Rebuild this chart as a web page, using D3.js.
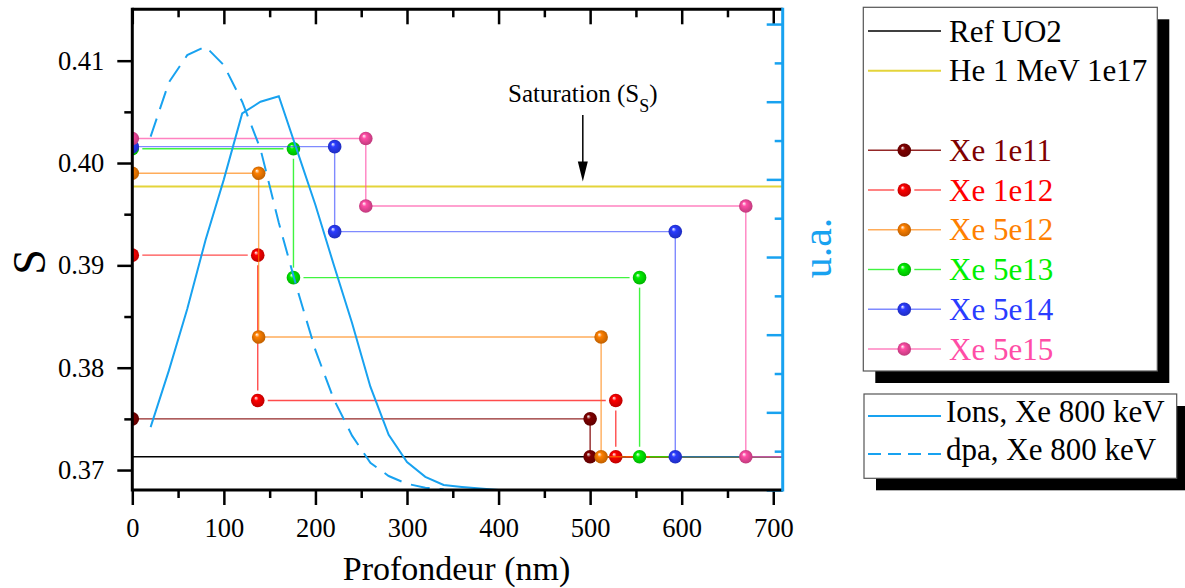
<!DOCTYPE html>
<html><head><meta charset="utf-8">
<script src="https://cdn.jsdelivr.net/npm/d3@7/dist/d3.min.js"></script>
<style>
body{margin:0;background:#fff}
svg{display:block}
svg text{font-family:"Liberation Serif","Times New Roman",serif !important}
</style>
</head><body>
<svg id="chart" width="1185" height="588"></svg>
<script>
// ---------------- data ----------------
const depthDomain = [0, 710.3];
const sDomain = [0.36805, 0.41502];
const uaDomain = [0, 6.19];

const depthTicks = [0, 100, 200, 300, 400, 500, 600, 700];
const depthMinorTicks = [50, 150, 250, 350, 450, 550, 650];
const sTicks = [0.37, 0.38, 0.39, 0.40, 0.41];
const sMinorTicks = [0.375, 0.385, 0.395, 0.405];
const uaTicks = [0, 1, 2, 3, 4, 5, 6];
const uaMinorTicks = [0.5, 1.5, 2.5, 3.5, 4.5, 5.5];

const refLabel = "Ref UO2";
const refS = 0.3713;
const heLabel = "He 1 MeV 1e17";
const heS = 0.3977;

const xeLabels = ["Xe 1e11", "Xe 1e12", "Xe 5e12", "Xe 5e13", "Xe 5e14", "Xe 5e15"];
const xe1e11Depth = [0, 500, 500];
const xe1e11S     = [0.3750, 0.3750, 0.3713];
const xe1e12Depth = [0, 137, 137, 528, 528];
const xe1e12S     = [0.3910, 0.3910, 0.3768, 0.3768, 0.3713];
const xe5e12Depth = [0, 138, 138, 512, 512];
const xe5e12S     = [0.3990, 0.3990, 0.3830, 0.3830, 0.3713];
const xe5e13Depth = [0, 176, 176, 554, 554];
const xe5e13S     = [0.4014, 0.4014, 0.3888, 0.3888, 0.3713];
const xe5e14Depth = [0, 221, 221, 593, 593];
const xe5e14S     = [0.4016, 0.4016, 0.3933, 0.3933, 0.3713];
const xe5e15Depth = [0, 255, 255, 670, 670];
const xe5e15S     = [0.4024, 0.4024, 0.3958, 0.3958, 0.3713];

const ionLabel = "Ions, Xe 800 keV";
const ionDepth = [20, 40, 60, 80, 100, 120, 140, 160, 180, 200, 220, 240, 260, 280, 300, 320, 340, 360, 380, 400];
const ionVal   = [0.81, 1.54, 2.33, 3.22, 4.00, 4.85, 5.00, 5.07, 4.37, 3.67, 2.90, 2.15, 1.33, 0.71, 0.36, 0.17, 0.064, 0.04, 0.02, 0.0];
const dpaLabel = "dpa, Xe 800 keV";
const dpaDepth = [20, 40, 60, 80, 100, 120, 140, 160, 180, 200, 220, 240, 260, 280, 300, 320, 340];
const dpaVal   = [4.55, 5.25, 5.60, 5.71, 5.47, 5.00, 4.39, 3.44, 2.59, 1.80, 1.17, 0.70, 0.35, 0.18, 0.08, 0.03, 0.01];

const satDepth = 492;
const satTextS = 0.4060;
const satArrowTopS = 0.4047;

const xTitle = "Profondeur (nm)";
const yTitle = "S";
const yRightTitle = "u.a.";

// ---------------- styles ----------------
const xeColors = ["#800000", "#ff0000", "#ff8000", "#00f000", "#2a3cff", "#ff4da6"];
const xeLineOpacity = [0.85, 0.7, 0.65, 0.75, 0.6, 0.7];
const xeGaps = [false, true, false, true, false, false];
const heColor = "#e4d43a";
const ionColor = "#18a2f0";
const FONT = '"Liberation Serif", "Times New Roman", serif';

// ---------------- layout ----------------
const svg = d3.select("#chart");
const P = {left: 132.3, right: 782.7, top: 9.3, bottom: 490};
const x = d3.scaleLinear().domain(depthDomain).range([P.left, P.right]);
const y = d3.scaleLinear().domain(sDomain).range([P.bottom, P.top]);
const yR = d3.scaleLinear().domain(uaDomain).range([P.bottom, P.top]);

const defs = svg.append("defs");
defs.append("clipPath").attr("id", "plotclip").append("rect")
  .attr("x", P.left).attr("y", P.top).attr("width", P.right - P.left).attr("height", P.bottom - P.top);

xeColors.forEach((c, i) => {
  const g = defs.append("radialGradient").attr("id", "ball" + i)
    .attr("cx", "0.5").attr("cy", "0.5").attr("r", "0.55").attr("fx", "0.35").attr("fy", "0.3");
  g.append("stop").attr("offset", "0").attr("stop-color", "#ffffff");
  g.append("stop").attr("offset", "0.3").attr("stop-color", c);
  g.append("stop").attr("offset", "1").attr("stop-color", d3.color(c).darker(0.9));
});

const plotG = svg.append("g").attr("clip-path", "url(#plotclip)");

// reference lines
plotG.append("line").attr("x1", x(depthDomain[0])).attr("x2", x(depthDomain[1]))
  .attr("y1", y(refS)).attr("y2", y(refS)).attr("stroke", "#000").attr("stroke-width", 1.4);
plotG.append("line").attr("x1", x(depthDomain[0])).attr("x2", x(depthDomain[1]))
  .attr("y1", y(heS)).attr("y2", y(heS)).attr("stroke", heColor).attr("stroke-width", 2);

// Xe series
const xeDepths = [xe1e11Depth, xe1e12Depth, xe5e12Depth, xe5e13Depth, xe5e14Depth, xe5e15Depth];
const xeSs = [xe1e11S, xe1e12S, xe5e12S, xe5e13S, xe5e14S, xe5e15S];
const R = 6.8;

function shorten(p, q, a, b) {
  const dx = q[0] - p[0], dy = q[1] - p[1];
  const L = Math.hypot(dx, dy);
  if (L <= a + b) return null;
  return [[p[0] + dx * a / L, p[1] + dy * a / L], [q[0] - dx * b / L, q[1] - dy * b / L]];
}

xeDepths.forEach((dep, i) => {
  const pts = dep.map((d, k) => [x(d), y(xeSs[i][k])]);
  const last = pts[pts.length - 1];
  const all = pts.concat([[x(depthDomain[1]) + 5, last[1]]]);
  const gap = xeGaps[i] ? 10 : 0;
  const g = plotG.append("g");
  for (let k = 0; k < all.length - 1; k++) {
    const a = gap;
    const b = (k + 1 < pts.length) ? gap : 0;
    const seg = shorten(all[k], all[k + 1], a, b);
    if (!seg) continue;
    g.append("line").attr("x1", seg[0][0]).attr("y1", seg[0][1]).attr("x2", seg[1][0]).attr("y2", seg[1][1])
      .attr("stroke", xeColors[i]).attr("stroke-width", 1.4).attr("stroke-opacity", xeLineOpacity[i]);
  }
  g.selectAll("circle").data(pts).join("circle")
    .attr("cx", d => d[0]).attr("cy", d => d[1]).attr("r", R)
    .attr("fill", `url(#ball${i})`);
});

// ion / dpa curves (right axis)
const lineR = d3.line().x(d => x(d[0])).y(d => yR(d[1]));
plotG.append("path").datum(ionDepth.map((d, k) => [d, ionVal[k]]))
  .attr("d", lineR).attr("fill", "none").attr("stroke", ionColor).attr("stroke-width", 2);
plotG.append("path").datum(dpaDepth.map((d, k) => [d, dpaVal[k]]))
  .attr("d", lineR).attr("fill", "none").attr("stroke", ionColor).attr("stroke-width", 2)
  .attr("stroke-dasharray", "19,10");

// saturation annotation
const sx = x(satDepth);
const satT = svg.append("text").attr("x", sx).attr("y", y(satTextS)).attr("text-anchor", "middle")
  .attr("font-size", 25).attr("fill", "#000");
satT.append("tspan").text("Saturation (S");
satT.append("tspan").attr("font-size", 18).attr("dy", 10).text("S");
satT.append("tspan").attr("dy", -10).text(")");
svg.append("line").attr("x1", sx).attr("x2", sx).attr("y1", y(satArrowTopS)).attr("y2", y(heS) - 18)
  .attr("stroke", "#000").attr("stroke-width", 1.5);
const tipY = y(heS) - 5;
svg.append("path").attr("d", `M${sx - 5},${tipY - 20}L${sx + 5},${tipY - 20}L${sx},${tipY}Z`).attr("fill", "#000");

// ---------------- axes ----------------
function styleAxis(g, color) {
  g.attr("font-family", FONT);
  g.selectAll("path.domain").remove();
  g.selectAll("line").attr("stroke", color).attr("stroke-width", 2.5);
  g.selectAll("text").attr("fill", color).style("font-family", FONT);
}
const gb = svg.append("g").attr("transform", `translate(0,${P.bottom})`)
  .call(d3.axisBottom(x).tickValues(depthTicks).tickSize(15).tickPadding(13).tickFormat(d3.format("d")));
gb.attr("font-size", 26.5); styleAxis(gb, "#000");
const gbm = svg.append("g").attr("transform", `translate(0,${P.bottom})`)
  .call(d3.axisBottom(x).tickValues(depthMinorTicks).tickSize(8).tickFormat(""));
styleAxis(gbm, "#000");
const gt = svg.append("g").attr("transform", `translate(0,${P.top})`)
  .call(d3.axisBottom(x).tickValues(depthTicks).tickSize(15).tickFormat(""));
styleAxis(gt, "#000");
const gtm = svg.append("g").attr("transform", `translate(0,${P.top})`)
  .call(d3.axisBottom(x).tickValues(depthMinorTicks).tickSize(8).tickFormat(""));
styleAxis(gtm, "#000");
const gl = svg.append("g").attr("transform", `translate(${P.left},0)`)
  .call(d3.axisLeft(y).tickValues(sTicks).tickSize(15).tickPadding(13).tickFormat(d3.format(".2f")));
gl.attr("font-size", 26.5); styleAxis(gl, "#000");
const glm = svg.append("g").attr("transform", `translate(${P.left},0)`)
  .call(d3.axisLeft(y).tickValues(sMinorTicks).tickSize(8).tickFormat(""));
styleAxis(glm, "#000");
const gr = svg.append("g").attr("transform", `translate(${P.right},0)`)
  .call(d3.axisLeft(yR).tickValues(uaTicks).tickSize(16).tickFormat(""));
styleAxis(gr, ionColor);
const grm = svg.append("g").attr("transform", `translate(${P.right},0)`)
  .call(d3.axisLeft(yR).tickValues(uaMinorTicks).tickSize(8).tickFormat(""));
styleAxis(grm, ionColor);

// frame lines
svg.append("line").attr("x1", P.left).attr("x2", P.right).attr("y1", P.bottom).attr("y2", P.bottom).attr("stroke", "#000").attr("stroke-width", 3);
svg.append("line").attr("x1", P.left).attr("x2", P.right).attr("y1", P.top).attr("y2", P.top).attr("stroke", "#000").attr("stroke-width", 3);
svg.append("line").attr("x1", P.left).attr("x2", P.left).attr("y1", P.top - 1.5).attr("y2", P.bottom + 1.5).attr("stroke", "#000").attr("stroke-width", 3);
svg.append("line").attr("x1", P.right).attr("x2", P.right).attr("y1", P.top - 1.5).attr("y2", P.bottom + 1.5).attr("stroke", ionColor).attr("stroke-width", 3);

// titles
svg.append("text").attr("x", (P.left + P.right) / 2 - 1).attr("y", 580).attr("text-anchor", "middle")
  .attr("font-size", 34).text(xTitle);
svg.append("text").attr("transform", `translate(45,262) rotate(-90)`).attr("text-anchor", "middle")
  .attr("font-size", 46).text(yTitle);
svg.append("text").attr("transform", `translate(831,248) rotate(-90)`).attr("text-anchor", "middle")
  .attr("font-size", 42).attr("fill", ionColor).text(yRightTitle);

// ---------------- legends ----------------
function legendBox(x0, y0, w, h) {
  svg.append("rect").attr("x", x0 + 12).attr("y", y0 + 12).attr("width", w).attr("height", h).attr("fill", "#000");
  svg.append("rect").attr("x", x0).attr("y", y0).attr("width", w).attr("height", h)
    .attr("fill", "#fff").attr("stroke", "#555").attr("stroke-width", 1.2);
}
const LX1 = 868, LX2 = 941, LT = 949, LM = 904.3, LF = 31;

legendBox(863.3, 7.3, 294, 363.7);
const rowY = i => 31 + i * 39.75;
svg.append("line").attr("x1", LX1).attr("x2", LX2).attr("y1", rowY(0)).attr("y2", rowY(0)).attr("stroke", "#000").attr("stroke-width", 1.5);
svg.append("text").attr("x", LT).attr("y", rowY(0) + 10.5).attr("font-size", LF).text(refLabel);
svg.append("line").attr("x1", LX1).attr("x2", LX2).attr("y1", rowY(1)).attr("y2", rowY(1)).attr("stroke", heColor).attr("stroke-width", 2);
svg.append("text").attr("x", LT).attr("y", rowY(1) + 10.5).attr("font-size", LF).text(heLabel);
xeLabels.forEach((lab, i) => {
  const yy = rowY(i + 3);
  const gap = xeGaps[i] ? 10 : 0;
  const segs = gap ? [[LX1, LM - gap], [LM + gap, LX2]] : [[LX1, LX2]];
  segs.forEach(s => svg.append("line").attr("x1", s[0]).attr("x2", s[1]).attr("y1", yy).attr("y2", yy)
    .attr("stroke", xeColors[i]).attr("stroke-width", 1.4).attr("stroke-opacity", xeLineOpacity[i]));
  svg.append("circle").attr("cx", LM).attr("cy", yy).attr("r", R).attr("fill", `url(#ball${i})`);
  svg.append("text").attr("x", LT).attr("y", yy + 10.5).attr("font-size", LF).attr("fill", xeColors[i]).text(lab);
});

legendBox(864, 394, 312.7, 84.3);
svg.append("line").attr("x1", LX1).attr("x2", LX2).attr("y1", 416).attr("y2", 416).attr("stroke", ionColor).attr("stroke-width", 2);
svg.append("text").attr("x", 946).attr("y", 422).attr("font-size", LF).text(ionLabel);
svg.append("line").attr("x1", LX1).attr("x2", LX2).attr("y1", 454).attr("y2", 454).attr("stroke", ionColor).attr("stroke-width", 2).attr("stroke-dasharray", "13,7");
svg.append("text").attr("x", 946).attr("y", 460).attr("font-size", LF).text(dpaLabel);
</script>
</body></html>
